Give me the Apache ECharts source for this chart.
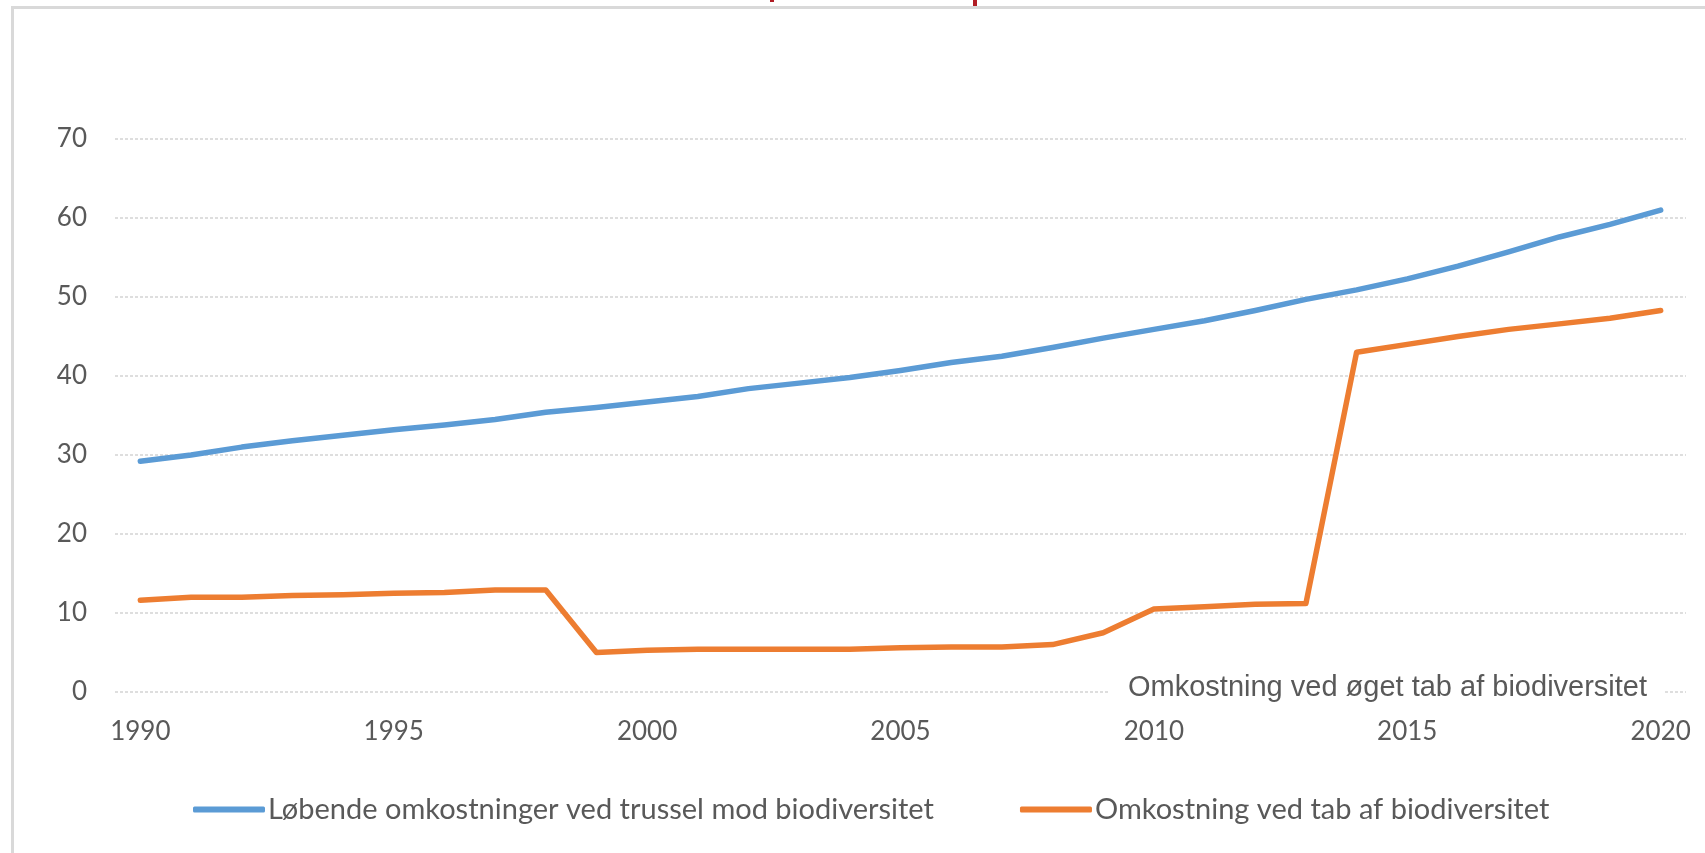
<!DOCTYPE html>
<html>
<head>
<meta charset="utf-8">
<script src="https://cdn.jsdelivr.net/npm/echarts@6/dist/echarts.min.js"></script>
<style>
  html, body { margin: 0; padding: 0; background: #ffffff; }
  #chart { width: 1705px; height: 853px; }
</style>
</head>
<body>
<div id="chart"></div>
<script>
const years = ['1990','1991','1992','1993','1994','1995','1996','1997','1998','1999',
  '2000','2001','2002','2003','2004','2005','2006','2007','2008','2009',
  '2010','2011','2012','2013','2014','2015','2016','2017','2018','2019','2020'];
const seriesNames = ['Løbende omkostninger ved trussel mod biodiversitet', 'Omkostning ved tab af biodiversitet'];
const runningCosts = [29.2, 30.0, 31.0, 31.8, 32.5, 33.2, 33.8, 34.5, 35.4, 36.0,
  36.7, 37.4, 38.4, 39.1, 39.8, 40.7, 41.7, 42.5, 43.6, 44.8,
  45.9, 47.0, 48.3, 49.7, 50.9, 52.3, 53.9, 55.7, 57.6, 59.2, 61.0];
const lossCosts = [11.6, 12.0, 12.0, 12.2, 12.3, 12.5, 12.6, 12.9, 12.9, 5.0,
  5.3, 5.4, 5.4, 5.4, 5.4, 5.6, 5.7, 5.7, 6.0, 7.5,
  10.5, 10.8, 11.1, 11.2, 43.0, 44.0, 45.0, 45.9, 46.6, 47.3, 48.3];
const annotation = 'Omkostning ved øget tab af biodiversitet';

const chart = echarts.init(document.getElementById('chart'), null, { renderer: 'canvas' });
const labelFont = 'Lato, "Liberation Sans", sans-serif';
chart.setOption({
  backgroundColor: '#ffffff',
  animation: false,
  grid: { left: 115, right: 19, top: 139, bottom: 161, containLabel: false },
  xAxis: {
    type: 'category',
    data: years,
    boundaryGap: true,
    axisLine: { show: false },
    axisTick: { show: false },
    axisLabel: { interval: 4, color: '#595959', fontFamily: labelFont, fontSize: 26, margin: 27 },
    splitLine: { show: false }
  },
  yAxis: {
    type: 'value',
    min: 0, max: 70, interval: 10,
    axisLine: { show: false },
    axisTick: { show: false },
    axisLabel: { color: '#595959', fontFamily: labelFont, fontSize: 26, margin: 28 },
    splitLine: { lineStyle: { color: '#d4d4d4', width: 1.5, type: [3, 2] } }
  },
  legend: {
    left: 188, top: 790,
    itemWidth: 72, itemHeight: 6, itemGap: 86,
    icon: 'roundRect',
    textStyle: { color: '#595959', fontFamily: labelFont, fontSize: 29, padding: [0, 0, 0, -2] },
    data: seriesNames
  },
  series: [
    { name: seriesNames[0], type: 'line', data: runningCosts, showSymbol: false, symbol: 'none',
      lineStyle: { color: '#5b9bd5', width: 5.5, cap: 'round', join: 'round' }, itemStyle: { color: '#5b9bd5' } },
    { name: seriesNames[1], type: 'line', data: lossCosts, showSymbol: false, symbol: 'none',
      lineStyle: { color: '#ed7d31', width: 5.5, cap: 'round', join: 'round' }, itemStyle: { color: '#ed7d31' } }
  ],
  graphic: [
    { type: 'rect', left: 11, top: 6, shape: { width: 1720, height: 900 }, silent: true, z: -10,
      style: { fill: 'transparent', stroke: '#d9d9d9', lineWidth: 3 } },
    { type: 'rect', left: 770, top: 0, shape: { width: 4, height: 2 }, style: { fill: '#b01c24' } },
    { type: 'rect', left: 973, top: 0, shape: { width: 4, height: 6 }, style: { fill: '#b01c24' } },
    { type: 'text', left: 1110, top: 671, z: 100,
      style: { text: annotation, fill: '#595959', font: '29px "Liberation Sans", Arial, sans-serif',
        backgroundColor: '#ffffff', padding: [2, 18, 4, 18] } }
  ]
});
</script>
</body>
</html>
